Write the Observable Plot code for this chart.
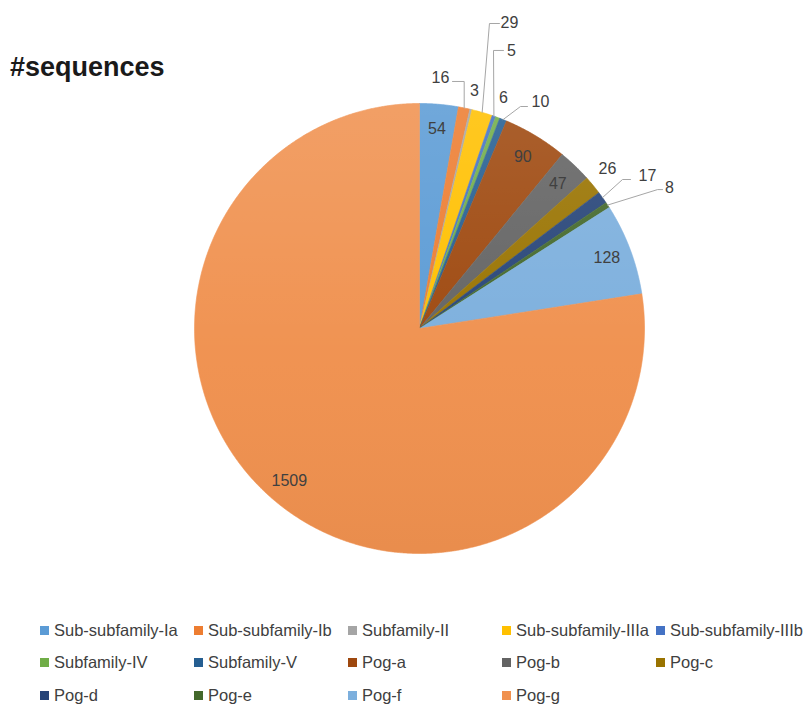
<!DOCTYPE html>
<html><head><meta charset="utf-8">
<script src="https://cdn.jsdelivr.net/npm/d3@7"></script>
<script src="https://cdn.jsdelivr.net/npm/@observablehq/plot@0.6"></script>
<style>
html,body{margin:0;padding:0;background:#fff;}
#wrap{position:relative;width:809px;height:705px;overflow:hidden;font-family:"Liberation Sans",Arial,sans-serif;background:#fff;}
#title{position:absolute;left:10px;top:54px;font-size:27px;font-weight:bold;line-height:27px;color:#1a1a1a;}
#legend{position:absolute;left:40px;top:614px;display:grid;grid-template-columns:repeat(5,154px);grid-auto-rows:32.5px;}
.item{display:flex;align-items:center;font-size:16.5px;color:#404040;white-space:nowrap;}
.sw{width:9px;height:9px;margin-right:5px;flex:none;}
</style></head>
<body><div id="wrap"><div id="chart"></div><div id="title">#sequences</div><div id="legend"></div></div>
<script>
// ---- data ----
const categories = ["Sub-subfamily-Ia","Sub-subfamily-Ib","Subfamily-II","Sub-subfamily-IIIa","Sub-subfamily-IIIb","Subfamily-IV","Subfamily-V","Pog-a","Pog-b","Pog-c","Pog-d","Pog-e","Pog-f","Pog-g"];
const counts = [54,16,3,29,5,6,10,90,47,26,17,8,128,1509];
const colors = ["#5B9BD5","#ED7D31","#A5A5A5","#FFC000","#4472C4","#70AD47","#255E91","#9E480E","#636363","#997300","#264478","#43682B","#7CAFDD","#F0914F"];

// ---- layout (pixels) ----
const R = 225;            // pie radius in px
const W = 809, H = 605;
const cx = 419, cy = 328;  // pie centre in px
const insideR = 0.89;      // radial position of inside labels
// outside labels: text offset and leader elbows, in px relative to the slice's outer midpoint
const outside = {
  "Sub-subfamily-Ib":  {t:[-23.7,-30.5], l:[[0,-26.5],[-11.7,-26.5]]},
  "Subfamily-II":      {t:[3.6,-19]},
  "Sub-subfamily-IIIa":{t:[27.3,-89.9], l:[[7.3,-88.9],[17.3,-88.9]]},
  "Sub-subfamily-IIIb":{t:[17.6,-65.7], l:[[-0.4,-65.7],[9.6,-65.7]]},
  "Subfamily-IV":      {t:[5.8,-20]},
  "Subfamily-V":       {t:[37.4,-18.1], l:[[17.4,-13.1],[24.4,-13.1]]},
  "Pog-c":             {t:[14.5,-16.7]},
  "Pog-d":             {t:[45,-22.1], l:[[20,-18.1],[28,-18.1]]},
  "Pog-e":             {t:[61.9,-17.5], l:[[49.9,-15.5],[54.9,-15.5]]}
};

const arcs = d3.pie().sort(null).value(d => d)(counts);
const slicePts = [];
const labels = [];
const leaders = [];
arcs.forEach((a, i) => {
  const cat = categories[i];
  slicePts.push({cat, x: 0, y: 0});
  const n = Math.max(2, Math.ceil((a.endAngle - a.startAngle) / (Math.PI / 720)));
  for (let k = 0; k <= n; k++) {
    const t = a.startAngle + (a.endAngle - a.startAngle) * k / n;
    slicePts.push({cat, x: Math.sin(t), y: Math.cos(t)});
  }
  slicePts.push({cat, x: 0, y: 0});
  const m = (a.startAngle + a.endAngle) / 2;
  const ex = Math.sin(m), ey = Math.cos(m);
  const o = outside[cat];
  if (o) {
    labels.push({cat, text: String(counts[i]), x: ex + o.t[0] / R, y: ey - o.t[1] / R});
    if (o.l) {
      leaders.push({cat, x: ex, y: ey});
      o.l.forEach(p => leaders.push({cat, x: ex + p[0] / R, y: ey - p[1] / R}));
    }
  } else {
    labels.push({cat, text: String(counts[i]), x: ex * insideR, y: ey * insideR});
  }
});

const chart = Plot.plot({
  width: W, height: H,
  marginLeft: cx - R, marginRight: W - cx - R,
  marginTop: cy - R, marginBottom: H - cy - R,
  x: {domain: [-1, 1], axis: null},
  y: {domain: [-1, 1], axis: null},
  color: {domain: categories, range: colors},
  style: {background: "transparent", overflow: "visible"},
  marks: [
    Plot.line(slicePts, {x: "x", y: "y", z: "cat", fill: "cat", stroke: "cat", strokeWidth: 0.6, curve: "linear"}),
    Plot.dot([{x: 0, y: 0}], {x: "x", y: "y", r: R, fill: "url(#pieShade)", stroke: "none"}),
    Plot.line(leaders, {x: "x", y: "y", z: "cat", stroke: "#a6a6a6", strokeWidth: 1, curve: "linear"}),
    Plot.text(labels, {x: "x", y: "y", text: "text", fill: "#404040", fontSize: 16, fontFamily: "Liberation Sans, Arial, sans-serif"})
  ]
});
const defs = document.createElementNS("http://www.w3.org/2000/svg", "defs");
defs.innerHTML = '<linearGradient id="pieShade" x1="0" y1="0" x2="0" y2="1">' +
  '<stop offset="0" stop-color="#fff" stop-opacity="0.13"/>' +
  '<stop offset="0.55" stop-color="#fff" stop-opacity="0.02"/>' +
  '<stop offset="1" stop-color="#000" stop-opacity="0.03"/></linearGradient>';
chart.insertBefore(defs, chart.firstChild);
document.getElementById("chart").appendChild(chart);

const sc = chart.scale("color");
const colorOf = n => sc.apply ? sc.apply(n) : sc.range[sc.domain.indexOf(n)];
const legend = document.getElementById("legend");
categories.forEach(c => {
  const it = document.createElement("div");
  it.className = "item";
  const sw = document.createElement("span");
  sw.className = "sw";
  sw.style.background = colorOf(c);
  it.appendChild(sw);
  it.appendChild(document.createTextNode(c));
  legend.appendChild(it);
});
</script>
</body></html>
